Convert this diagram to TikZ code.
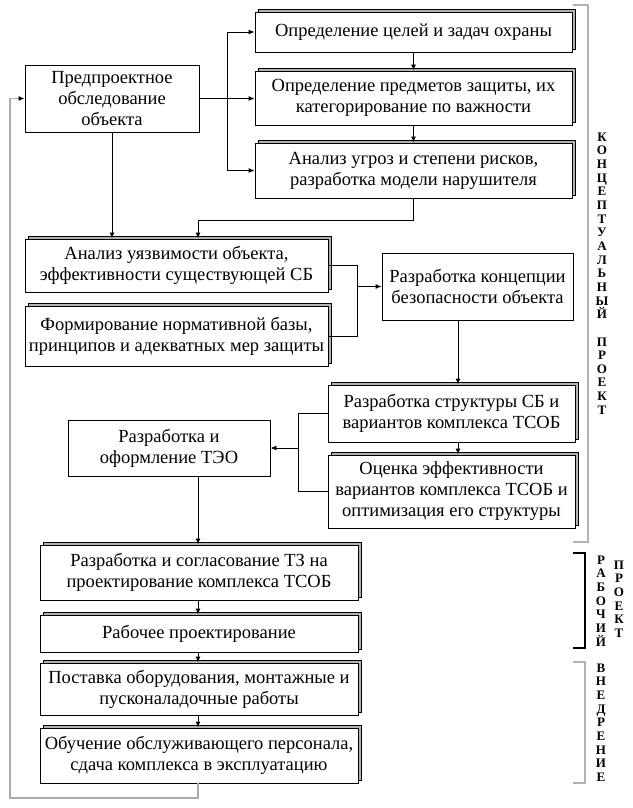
\documentclass[tikz,border=0pt]{standalone}
\usepackage{fontspec}
\setmainfont{Liberation Serif}
\usetikzlibrary{arrows.meta,shadows}

\begin{document}
\begin{tikzpicture}[x=1pt,y=-1pt,
  >={Latex[length=6pt,width=5pt]},
  box/.style={draw, line width=0.9pt, fill=white, align=center, inner sep=2pt,
    font=\fontsize{18.5}{21}\selectfont},
  shbox/.style={box, general shadow={fill=gray!60, draw=black, line width=0.7pt,
    shadow xshift=3pt, shadow yshift=3pt}},
  link/.style={line width=0.9pt},
  back/.style={draw=gray!65, line width=1.6pt},
  letters/.style={align=center, inner sep=0pt, font=\fontsize{13}{13.65}\selectfont\bfseries}]
\useasboundingbox (0,0) rectangle (632,808);

% concept stage
\node[box, minimum width=174pt, minimum height=67pt] (pre) at (112,98.5) {Предпроектное\\обследование\\объекта};
\node[shbox, minimum width=317pt, minimum height=40pt] (goal) at (413.5,32) {Определение целей и задач охраны};
\node[shbox, minimum width=317pt, minimum height=54pt] (subj) at (413.5,98) {Определение предметов защиты, их\\категорирование по важности};
\node[shbox, minimum width=317pt, minimum height=55pt] (threat) at (413.5,170.5) {Анализ угроз и степени рисков,\\разработка модели нарушителя};
\node[shbox, minimum width=303pt, minimum height=53pt] (vuln) at (176.5,265.5) {Анализ уязвимости объекта,\\эффективности существующей СБ};
\node[shbox, minimum width=303pt, minimum height=60pt] (norm) at (176.5,336.5) {Формирование нормативной базы,\\принципов и адекватных мер защиты};
\node[box, minimum width=191pt, minimum height=67pt] (conc) at (477.5,286.5) {Разработка концепции\\безопасности объекта};
\node[shbox, minimum width=247pt, minimum height=57pt] (struct) at (451.5,413.5) {Разработка структуры СБ и\\вариантов комплекса ТСОБ};
\node[shbox, minimum width=247pt, minimum height=73pt] (eval) at (451.5,491.5) {Оценка эффективности\\вариантов комплекса ТСОБ и\\оптимизация его структуры};
\node[box, minimum width=202pt, minimum height=56pt] (teo) at (169,448) {Разработка и\\оформление ТЭО};

% working project and implementation
\node[shbox, minimum width=318pt, minimum height=55pt] (tz) at (199,572.5) {Разработка и согласование ТЗ на\\проектирование комплекса ТСОБ};
\node[shbox, minimum width=318pt, minimum height=37pt] (work) at (199,633.5) {Рабочее проектирование};
\node[shbox, minimum width=318pt, minimum height=52pt] (supply) at (199,689) {Поставка оборудования, монтажные и\\пусконаладочные работы};
\node[shbox, minimum width=318pt, minimum height=55pt] (train) at (199,755.5) {Обучение обслуживающего персонала,\\сдача комплекса в эксплуатацию};

\coordinate (fork) at (227,98.5);
\coordinate (j1) at (198,220);
\coordinate (m1) at (357,286.5);
\coordinate (m2) at (298,448);
\coordinate (cx) at (458,0);
\coordinate (spine) at (198,0);
\coordinate (loop) at (10,798);

\draw[link] (pre) -- (fork);
\draw[link,->] (fork) |- (goal);
\draw[link,->] (fork) -- (fork -| subj.west);
\draw[link,->] (fork) |- (threat);
\draw[link,->] (goal) -- (subj);
\draw[link,->] (subj) -- (threat);
\draw[link,->] (pre) -- (pre |- vuln.north);
\draw[link,->] (threat) |- (j1) -- (j1 |- vuln.north);
\draw[link] (vuln) -| (m1);
\draw[link] (norm) -| (m1);
\draw[link,->] (m1) -- (conc);
\draw[link,->] (conc.south -| cx) -- (struct.north -| cx);
\draw[link,->] (struct.south -| cx) -- (eval.north -| cx);
\draw[link] (struct) -| (m2);
\draw[link] (eval) -| (m2);
\draw[link,->] (m2) -- (teo);
\draw[link,->] (teo.south -| spine) -- (tz.north -| spine);
\draw[link,->] (tz.south -| spine) -- (work.north -| spine);
\draw[link,->] (work.south -| spine) -- (supply.north -| spine);
\draw[link,->] (supply.south -| spine) -- (train.north -| spine);
\draw[back,-{Latex[length=6pt,width=5pt,black]}] (train.south -| spine) |- (loop) |- (pre);

% stage brackets
\draw[gray!60, line width=1.5pt] (573,5) -- (588,5) -- (588,542) -- (573,542);
\draw[line width=1.2pt] (573,553) -- (585,553) -- (585,648) -- (573,648);
\draw[gray!60, line width=1.5pt] (573,662) -- (585,662) -- (585,783) -- (573,783);

\node[letters] (lconc) at (602,273.5) {К\\О\\Н\\Ц\\Е\\П\\Т\\У\\А\\Л\\Ь\\Н\\Ы\\Й\\\mbox{}\\П\\Р\\О\\Е\\К\\Т};
\node[letters] (lwork) at (601,601) {Р\\А\\Б\\О\\Ч\\И\\Й};
\node[letters] (lproj) at (619,599) {П\\Р\\О\\Е\\К\\Т};
\node[letters] (limpl) at (601,722.5) {В\\Н\\Е\\Д\\Р\\Е\\Н\\И\\Е};
\end{tikzpicture}
\end{document}
